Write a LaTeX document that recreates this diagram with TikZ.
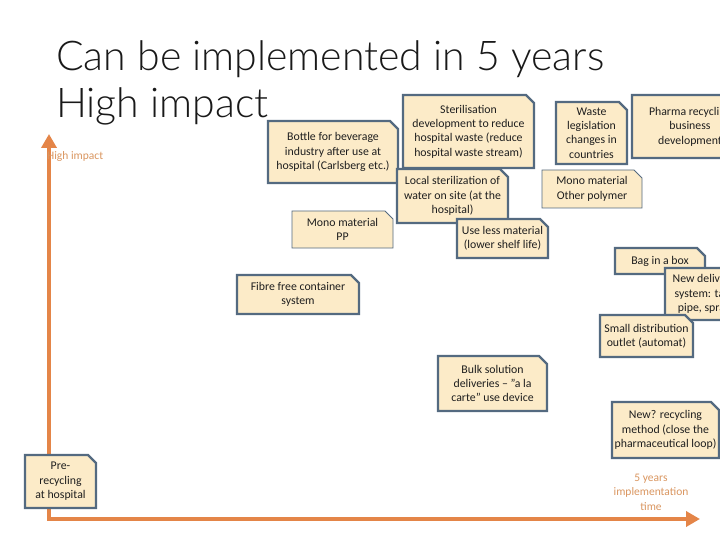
\documentclass[tikz,border=0pt]{standalone}
\usepackage{fontspec}
\setmainfont{Carlito}
\newfontfamily\titlefont{Lato Light}
\usetikzlibrary{arrows.meta}
\definecolor{notefill}{RGB}{252,235,200}
\definecolor{noteline}{RGB}{84,106,128}
\definecolor{axisorange}{RGB}{228,133,72}
\definecolor{labelorange}{RGB}{218,150,96}
\definecolor{notetextc}{RGB}{30,30,30}
\tikzset{
  notebox/.style={fill=notefill, draw=noteline, line width=2.2pt, line join=miter},
  thinbox/.style={fill=notefill, draw=noteline, line width=0.9pt, line join=miter},
  notetext/.style={align=center, font=\fontsize{11.8}{14.4}\selectfont, text=notetextc, inner sep=0pt},
  axisline/.style={draw=axisorange, line width=3.5pt, line join=miter,
    {Triangle[length=14pt,width=15pt]}-{Triangle[length=14pt,width=15pt]}},
  axislabel/.style={text=labelorange, font=\fontsize{11.5}{14.4}\selectfont, align=center, inner sep=0pt},
  titletext/.style={font=\titlefont\fontsize{41}{47}\selectfont, inner sep=0pt, anchor=base west, text=black!90}
}
\newcommand\stickynote[7]{%
  \path[#1] (#3,#4) -- ({#5-8},#4) -- (#5,{#4+8}) -- (#5,#6) -- (#3,#6) -- cycle;
  \node[notetext] (#2) at ({(#3+#5)/2},{(#4+#6)/2}) {#7};
}
\begin{document}
\begin{tikzpicture}[x=1pt,y=-1pt]
\useasboundingbox (0,0) rectangle (720,540);
\clip (0,0) rectangle (720,540);
\fill[white] (0,0) rectangle (720,540);

% title
\node[titletext] (title1) at (56,71) {Can be implemented in 5 years};
\node[titletext] (title2) at (56,118) {High impact};

% axes
\coordinate (ytip) at (49,134);
\coordinate (origin) at (49,519);
\coordinate (xtip) at (700,519);
\draw[axisline] (ytip) -- (origin) -- (xtip);
\node[axislabel, anchor=west] (ylabel) at (47,156) {High impact};
\node[axislabel] (xlabel) at (651,492) {5 years\\implementation\\time};

% notes
\stickynote{notebox}{bottle}{268}{121}{398}{183}{Bottle for beverage\\industry after use at\\hospital (Carlsberg etc.)}
\stickynote{notebox}{steril}{403}{95}{534}{168}{Sterilisation\\development to reduce\\hospital waste (reduce\\hospital waste stream)}
\stickynote{notebox}{local}{397}{169}{508}{223}{Local sterilization of\\water on site (at the\\hospital)}
\stickynote{thinbox}{monopp}{292}{211}{393}{248}{Mono material\\PP}
\stickynote{notebox}{useless}{457}{219}{548}{258}{Use less material\\(lower shelf life)}
\stickynote{notebox}{waste}{556}{102}{627}{164}{Waste\\legislation\\changes in\\countries}
\stickynote{notebox}{pharma}{632}{95}{748}{158}{Pharma recycling\\business\\development}
\stickynote{thinbox}{monoother}{542}{170}{642}{208}{Mono material\\Other polymer}
\stickynote{notebox}{fibre}{237}{275}{359}{314}{Fibre free container\\system}
\stickynote{notebox}{bag}{615}{248}{705}{274}{Bag in a box}
\stickynote{notebox}{newdel}{665}{268}{743}{320}{New delivery\\system: tap,\\pipe, spray}
\stickynote{notebox}{smalldist}{600}{315}{693}{357}{Small distribution\\outlet (automat)}
\stickynote{notebox}{bulk}{438}{356}{547}{411}{Bulk solution\\deliveries -- "a la\\carte" use device}
\stickynote{notebox}{newrec}{612}{402}{719}{458}{New? recycling\\method (close the\\pharmaceutical loop)}
\stickynote{notebox}{prerec}{25}{455}{96}{508}{Pre-\\recycling\\at hospital}
\end{tikzpicture}
\end{document}
